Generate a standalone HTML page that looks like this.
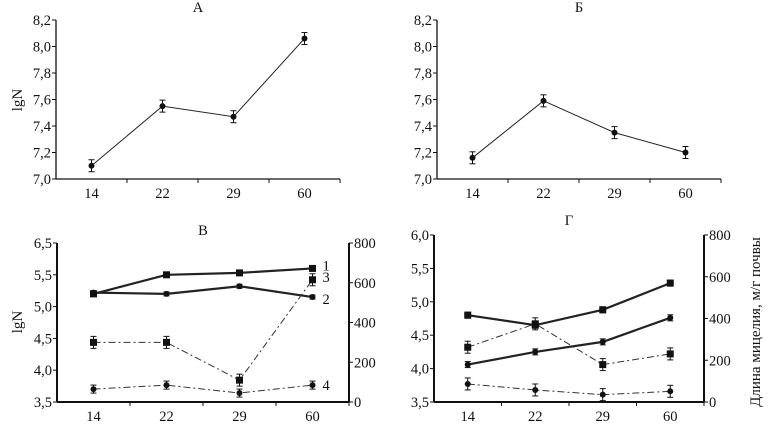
<!DOCTYPE html>
<html><head><meta charset="utf-8"><style>
body{margin:0;background:#fff}
svg{display:block;font-family:"Liberation Serif",serif;font-size:14.5px}
</style></head><body>
<svg id="c" width="768" height="424" viewBox="0 0 768 424"></svg>
<script>
const categories=["14","22","29","60"];
const seriesA=[7.10,7.55,7.47,8.06];
const seriesB=[7.16,7.59,7.35,7.20];
const v1=[5.20,5.50,5.53,5.60];
const v2=[5.22,5.20,5.32,5.15];
const v3=[300,300,110,615];
const v4=[65,85,45,85];
const g1=[4.80,4.65,4.88,5.28];
const g2=[4.06,4.25,4.40,4.76];
const g3=[4.32,4.67,4.06,4.22];
const g4=[3.77,3.68,3.61,3.66];
const ticksTop=[7.0,7.2,7.4,7.6,7.8,8.0,8.2];
const ticksV=[3.5,4.0,4.5,5.0,5.5,6.0];
const ticksVLabels=["3,5","4,0","4,5","5,0","5,5","6,5"];
const ticksG=[3.5,4.0,4.5,5.0,5.5,6.0];
const ticksR=[0,200,400,600,800];

const svg=document.getElementById('c');
const NS="http://www.w3.org/2000/svg";
function el(t,a,name){const e=document.createElementNS(NS,t);for(const k in a)e.setAttribute(k,a[k]);


svg.appendChild(e);return e;}
function txt(x,y,s,name,anchor,extra){const e=el('text',Object.assign({x:x,y:y,'text-anchor':anchor||'middle',fill:'#111'},extra||{}),name);e.textContent=s;return e;}
const fmt=v=>v.toFixed(1).replace('.',',');

function panel(p){
  const ys=v=>p.y0-(v-p.min)/(p.max-p.min)*(p.y0-p.y1);
  const xs=i=>p.x0+p.step*(i+0.5);
  const xEnd=p.x0+p.step*4;
  el('line',{x1:p.x0,y1:p.y1,x2:p.x0,y2:p.y0,stroke:'#111','stroke-width':p.bold?2:1.3},'y-axis');
  el('line',{x1:p.x0,y1:p.y0,x2:xEnd,y2:p.y0,stroke:'#111','stroke-width':p.bold?2:1.3},'x-axis');
  p.ticks.forEach((t,k)=>{const y=ys(t);el('line',{x1:p.x0-4,y1:y,x2:p.x0,y2:y,stroke:'#111'},'y-tick');
    txt(p.x0-5,y+5,p.labels?p.labels[k]:fmt(t),'y-tick-label','end');});
  for(let i=1;i<=4;i++)el('line',{x1:p.x0+p.step*i,y1:p.y0,x2:p.x0+p.step*i,y2:p.y0+4,stroke:'#111'},'x-tick');
  categories.forEach((c,i)=>txt(xs(i),p.y0+19,c,'x-tick-label'));
  let yr=null;
  if(p.right){
    yr=v=>p.y0-v/800*(p.y0-p.y1);
    el('line',{x1:xEnd,y1:p.y1,x2:xEnd,y2:p.y0,stroke:'#111','stroke-width':2},'right-axis');
    ticksR.forEach(t=>{const y=yr(t);el('line',{x1:xEnd,y1:y,x2:xEnd+4,y2:y,stroke:'#111'},'right-tick');
      txt(xEnd+5,y+5,String(t),'right-tick-label','start');});
  }
  txt(p.x0+p.step*2-(p.titleOff||0),p.y1-8+(p.titleDy||0),p.title,'panel-title');
  p.series.forEach(s=>{
    const f=s.right?yr:ys;
    const pts=s.data.map((v,i)=>xs(i)+','+f(v)).join(' ');
    el('polyline',{points:pts,fill:'none',stroke:s.dash?'#333':'#222','stroke-width':s.w,'stroke-dasharray':s.dash||''},s.name+'-line');
    s.data.forEach((v,i)=>{const x=xs(i),y=f(v);
      const eh=s.eh||4;
      el('line',{x1:x,y1:y-eh,x2:x,y2:y+eh,stroke:'#111'},s.name+'-errorbar');
      el('line',{x1:x-3,y1:y-eh,x2:x+3,y2:y-eh,stroke:'#111'},s.name+'-errorcap');
      el('line',{x1:x-3,y1:y+eh,x2:x+3,y2:y+eh,stroke:'#111'},s.name+'-errorcap');
      if(s.sq)el('rect',{x:x-3.5,y:y-3.5,width:7,height:7,fill:'#111'},s.name+'-marker');
      else el('circle',{cx:x,cy:y,r:3,fill:'#111'},s.name+'-marker');
    });
    if(s.label)txt(xs(3)+10,f(s.data[3])+5+(s.ldy||0),s.label,s.name+'-label','start');
  });
}
panel({x0:56,y0:179,y1:20,step:71,min:7.0,max:8.2,ticks:ticksTop,title:'А',
  series:[{name:'series-a',data:seriesA,w:1,eh:6}]});
panel({x0:437,y0:179,y1:20,step:71,min:7.0,max:8.2,ticks:ticksTop,title:'Б',
  series:[{name:'series-b',data:seriesB,w:1,eh:6}]});
panel({x0:57,y0:402,y1:243,step:73,min:3.5,max:6.0,ticks:ticksV,labels:ticksVLabels,title:'В',right:true,bold:true,
  series:[{name:'series-1',data:v1,w:2.2,sq:true,label:'1',ldy:-3,eh:2},
  {name:'series-2',data:v2,w:2.2,label:'2',ldy:2,eh:2},
  {name:'series-3',data:v3,right:true,w:1,sq:true,dash:'7,3,2,3',label:'3',ldy:-3,eh:6},
  {name:'series-4',data:v4,right:true,w:1,dash:'7,3,2,3',label:'4',eh:4}]});
panel({x0:434,y0:402,y1:235,step:67.5,min:3.5,max:6.0,ticks:ticksG,title:'Г',right:true,bold:true,titleDy:-2,
  series:[{name:'series-g1',data:g1,w:2.2,sq:true,eh:3},
  {name:'series-g2',data:g2,w:2.2,eh:3},
  {name:'series-g3',data:g3,w:1,sq:true,dash:'7,3,2,3',eh:6},
  {name:'series-g4',data:g4,w:1,dash:'7,3,2,3',eh:6}]});
txt(0,0,'lgN','y-axis-title-top','middle',{transform:'translate(22,100) rotate(-90)',"font-size":15});
txt(0,0,'lgN','y-axis-title-bottom','middle',{transform:'translate(22,322) rotate(-90)',"font-size":15});
txt(0,0,'Длина мицелия, м/г почвы','right-axis-title','middle',{transform:'translate(760,322) rotate(-90)',"font-size":15});
</script>
</body></html>
